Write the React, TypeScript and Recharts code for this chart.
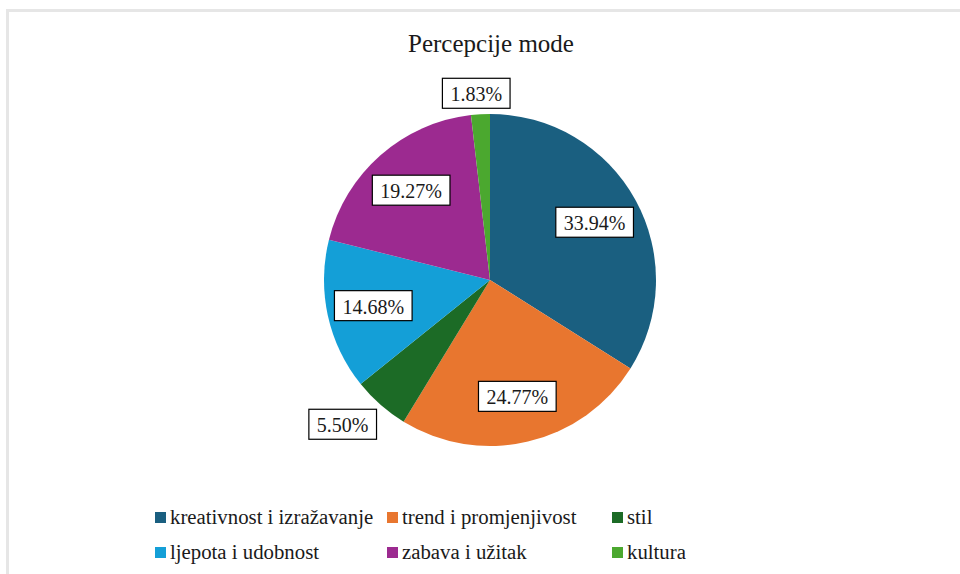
import { PieChart, Pie, Cell, Legend } from 'recharts';

const categories = [
  'kreativnost i izražavanje',
  'trend i promjenjivost',
  'stil',
  'ljepota i udobnost',
  'zabava i užitak',
  'kultura',
];
const shares = [33.94, 24.77, 5.5, 14.68, 19.27, 1.83];
const colors = ['#1a5f80', '#e8762f', '#1c6b26', '#149fd7', '#9c2a90', '#4ba82f'];

const FONT = '"Liberation Serif", "Times New Roman", serif';
const RAD = Math.PI / 180;

const data = categories.map((name, i) => ({ name, value: shares[i] }));

// rough Liberation Serif advance widths, in em
function textWidth(s: string, size: number) {
  let w = 0;
  for (const ch of s) {
    if (ch === '.') w += 0.25;
    else if (ch === '%') w += 0.833;
    else w += 0.5;
  }
  return w * size;
}

const clamp = (v: number) => Math.max(-1, Math.min(1, v));

function renderLabel(props: any) {
  const { cx, cy, midAngle, outerRadius, value } = props;
  const text = Number(value).toFixed(2) + '%';
  const w = textWidth(text, 20) + 16;
  const h = 30;
  const dx = Math.cos(-midAngle * RAD);
  const dy = Math.sin(-midAngle * RAD);
  let bx: number;
  let by: number;
  if (value < 6) {
    // small slices: box sits just outside the rim
    const ax = cx + (outerRadius + 6) * dx;
    const ay = cy + (outerRadius + 6) * dy;
    bx = ax + (w / 2) * clamp(dx * 2);
    by = ay + (h / 2) * clamp(dy * 2);
  } else {
    bx = cx + outerRadius * 0.72 * dx;
    by = cy + outerRadius * 0.72 * dy;
  }
  return (
    <g>
      <rect x={bx - w / 2} y={by - h / 2} width={w} height={h} fill="#fff" stroke="#000" strokeWidth={1.2} />
      <text
        x={bx}
        y={by + 1}
        textAnchor="middle"
        dominantBaseline="central"
        fontFamily={FONT}
        fontSize={20}
        fill="#1a1a1a"
      >
        {text}
      </text>
    </g>
  );
}

const legendCols = [155, 387, 612];
const legendRows = [517, 552];

function LegendBox() {
  return (
    <div style={{ position: 'relative', width: 960, height: 574 }}>
      {categories.map((c, i) => {
        const left = legendCols[i % 3];
        const top = legendRows[Math.floor(i / 3)];
        return (
          <div
            key={c}
            style={{
              position: 'absolute',
              left,
              top: top - 12,
              height: 24,
              display: 'flex',
              alignItems: 'center',
              whiteSpace: 'nowrap',
              fontFamily: FONT,
              fontSize: 20.8,
              color: '#1a1a1a',
            }}
          >
            <span style={{ display: 'inline-block', width: 11, height: 11, background: colors[i], marginRight: 4 }} />
            {c}
          </div>
        );
      })}
    </div>
  );
}

export default function App() {
  return (
    <div style={{ position: 'absolute', left: 0, top: 0, width: 960, height: 574, overflow: 'hidden', background: '#fff' }}>
      <div
        style={{
          position: 'absolute',
          left: 6,
          top: 9,
          width: 980,
          height: 600,
          border: '3px solid #e6e6e6',
          background: '#fff',
        }}
      />
      <div style={{ position: 'absolute', left: 0, top: 0 }}>
        <PieChart width={960} height={574} margin={{ top: 0, right: 0, bottom: 0, left: 0 }}>
          <text x={491} y={52} textAnchor="middle" fontFamily={FONT} fontSize={25} fill="#1a1a1a">
            Percepcije mode
          </text>
          <Pie
            data={data}
            dataKey="value"
            nameKey="name"
            cx={490}
            cy={280}
            outerRadius={166}
            startAngle={90}
            endAngle={-270}
            stroke="none"
            label={renderLabel}
            labelLine={false}
            isAnimationActive={false}
          >
            {data.map((d, i) => (
              <Cell key={d.name} fill={colors[i]} />
            ))}
          </Pie>
          <Legend
            content={() => <LegendBox />}
            wrapperStyle={{ position: 'absolute', left: 0, top: 0, width: 960, height: 574 }}
          />
        </PieChart>
      </div>
    </div>
  );
}
